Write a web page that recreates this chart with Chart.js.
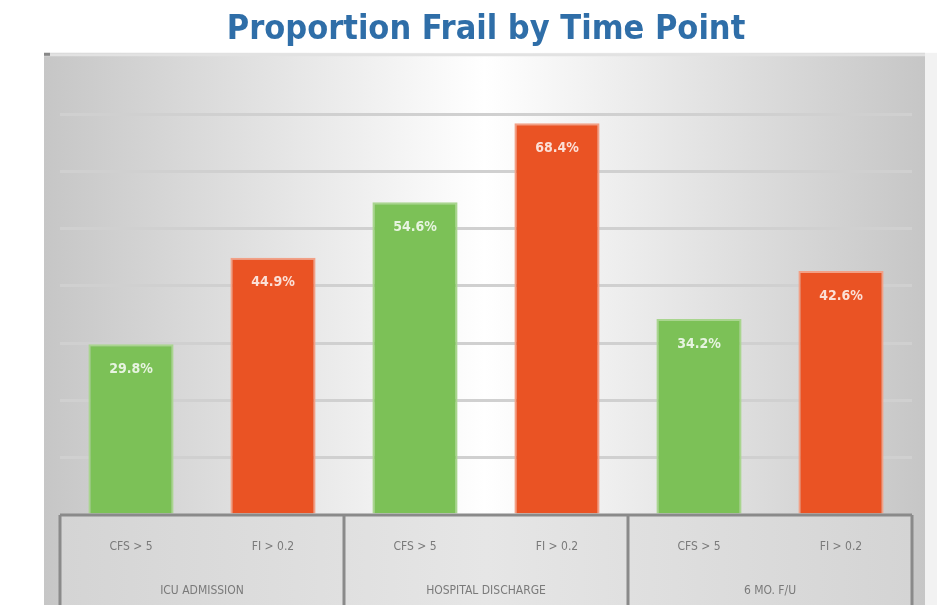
<!DOCTYPE html>
<html>
<head>
<meta charset="utf-8">
<script src="https://cdn.jsdelivr.net/npm/chart.js@4"></script>
<style>
  html, body { margin: 0; padding: 0; background: #ffffff; }
  #wrap { width: 937px; height: 605px; }
</style>
</head>
<body>
<div id="wrap"><canvas id="frailChart" width="937" height="605"></canvas></div>
<script>
// Datos: medidas de fragilidad por momento
var categorias = ['CFS > 5', 'FI > 0.2', 'CFS > 5', 'FI > 0.2', 'CFS > 5', 'FI > 0.2'];
var grupos = ['ICU ADMISSION', 'HOSPITAL DISCHARGE', '6 MO. F/U'];
var valores = [29.8, 44.9, 54.6, 68.4, 34.2, 42.6];
var etiquetas = ['29.8%', '44.9%', '54.6%', '68.4%', '34.2%', '42.6%'];
var marcasY = [0, 10, 20, 30, 40, 50, 60, 70];

var verde = '#7cc157';
var rojo = '#ea5324';
var fuenteNarrow = "'Liberation Sans Narrow', 'DejaVu Sans Condensed', 'Roboto Condensed', sans-serif";

// Fondo con degradado y caja de la tabla del eje X
var fondoPlugin = {
    id: 'fondo',
    beforeDraw: function (chart) {
        var ctx = chart.ctx;
        var area = chart.chartArea;
        ctx.save();
        var g = ctx.createLinearGradient(44, 0, 925, 0);
        g.addColorStop(0, '#c6c6c6');
        g.addColorStop(0.5, '#ffffff');
        g.addColorStop(1, '#c6c6c6');
        ctx.fillStyle = g;
        ctx.fillRect(44, area.top - 4, 881, 605 - area.top + 4);
        ctx.fillStyle = '#f2f2f2';
        ctx.fillRect(925, area.top - 4, 12, 605);
        ctx.strokeStyle = '#e2e2e2';
        ctx.lineWidth = 3;
        ctx.beginPath();
        ctx.moveTo(44, area.top - 2);
        ctx.lineTo(925, area.top - 2);
        ctx.stroke();
        ctx.fillStyle = '#888888';
        ctx.fillRect(44, area.top - 4, 6, 3);
        ctx.restore();
    },
    afterDraw: function (chart) {
        var ctx = chart.ctx;
        var area = chart.chartArea;
        var x = chart.scales.x;
        var base = chart.scales.y.getPixelForValue(0);
        ctx.save();
        // Caja de la tabla
        var g = ctx.createLinearGradient(area.left, 0, area.right, 0);
        g.addColorStop(0, '#d4d4d4');
        g.addColorStop(0.5, '#e6e6e6');
        g.addColorStop(1, '#d4d4d4');
        ctx.fillStyle = g;
        ctx.fillRect(area.left, base, area.right - area.left, 605 - base);
        ctx.strokeStyle = '#8a8a8a';
        ctx.lineWidth = 3;
        ctx.beginPath();
        ctx.moveTo(area.left, base);
        ctx.lineTo(area.right, base);
        var step = (area.right - area.left) / categorias.length;
        for (var k = 0; k <= grupos.length; k++) {
            var xx = area.left + k * step * 2;
            ctx.moveTo(xx, base);
            ctx.lineTo(xx, 605);
        }
        ctx.stroke();
        // Etiquetas de categoria y de grupo
        ctx.fillStyle = '#7a7a7a';
        ctx.textAlign = 'center';
        ctx.textBaseline = 'middle';
        ctx.font = '12px ' + fuenteNarrow;
        categorias.forEach(function (c, i) {
            ctx.fillText(c, x.getPixelForValue(i), base + 32);
        });
        grupos.forEach(function (gr, i) {
            var cx = (x.getPixelForValue(i * 2) + x.getPixelForValue(i * 2 + 1)) / 2;
            ctx.fillText(gr, cx, base + 76);
        });
        // Valores dentro de las barras
        var meta = chart.getDatasetMeta(0);
        ctx.fillStyle = 'rgba(255,255,255,0.82)';
        ctx.font = 'bold 14px ' + fuenteNarrow;
        meta.data.forEach(function (bar, i) {
            ctx.fillText(etiquetas[i], bar.x, bar.y + 25);
        });
        ctx.restore();
    }
};

var contexto = document.getElementById('frailChart').getContext('2d');

var grafico = new Chart(contexto, {
    type: 'bar',
    data: {
        labels: categorias,
        datasets: [{
            data: valores,
            backgroundColor: [verde, rojo, verde, rojo, verde, rojo],
            borderColor: ['#a9d58f', '#f2a086', '#a9d58f', '#f2a086', '#a9d58f', '#f2a086'],
            borderWidth: 2,
            borderSkipped: 'bottom',
            categoryPercentage: 1,
            barPercentage: 0.6
        }]
    },
    options: {
        responsive: false,
        animation: false,
        layout: { padding: { left: 60, right: 25, top: 0, bottom: 90 } },
        plugins: {
            legend: { display: false },
            tooltip: { enabled: false },
            title: {
                display: true,
                text: 'Proportion Frail by Time Point',
                color: '#2f6ea8',
                font: { family: fuenteNarrow, size: 34, weight: 'bold' },
                padding: { top: 10, bottom: 6 }
            }
        },
        scales: {
            x: { display: false },
            y: {
                min: 0,
                max: 80,
                afterBuildTicks: function (axis) {
                    axis.ticks = marcasY.map(function (v) { return { value: v }; });
                },
                ticks: { display: false },
                border: { display: false },
                grid: { color: '#d0d0d0', lineWidth: 3, drawTicks: false }
            }
        }
    },
    plugins: [fondoPlugin]
});
</script>
</body>
</html>
